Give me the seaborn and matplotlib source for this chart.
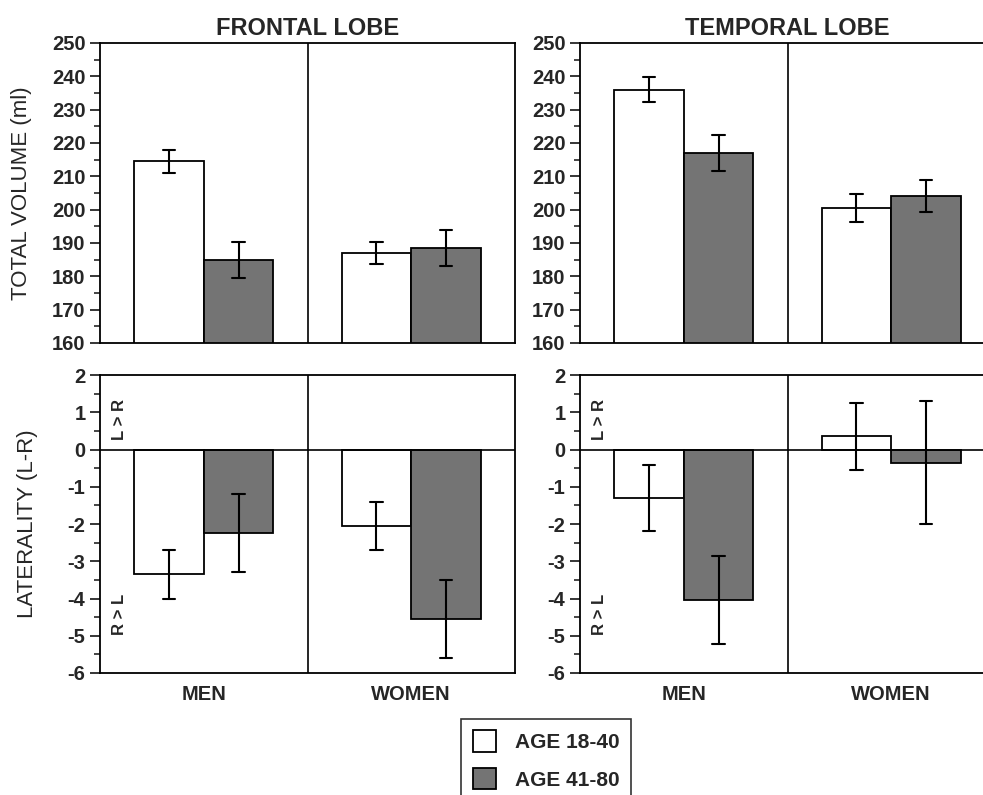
import numpy as np
import pandas as pd
import seaborn as sns
import matplotlib.pyplot as plt
from matplotlib.patches import Patch
from matplotlib.ticker import MultipleLocator

sex = ["MEN", "WOMEN"]
ages = ["AGE 18-40", "AGE 41-80"]

# order: men 18-40, men 41-80, women 18-40, women 41-80
frontal_vol = [214.5, 185.0, 187.0, 188.5]
frontal_vol_err = [3.5, 5.4, 3.3, 5.5]
temporal_vol = [236.0, 217.0, 200.5, 204.0]
temporal_vol_err = [3.8, 5.3, 4.3, 4.8]
frontal_lat = [-3.35, -2.25, -2.05, -4.55]
frontal_lat_err = [0.65, 1.05, 0.65, 1.05]
temporal_lat = [-1.3, -4.05, 0.35, -0.35]
temporal_lat_err = [0.88, 1.18, 0.9, 1.65]

colors = {"AGE 18-40": "white", "AGE 41-80": "#747474"}


def make_df(vals, errs):
    # two rows per bar (mean - err, mean + err): mean gives the bar, min/max the error bar
    rows = []
    for i, (v, e) in enumerate(zip(vals, errs)):
        rows.append((sex[i // 2], ages[i % 2], v - e))
        rows.append((sex[i // 2], ages[i % 2], v + e))
    return pd.DataFrame(rows, columns=["sex", "age", "value"])


sns.set_style("ticks")
plt.rcParams["font.family"] = ["Liberation Sans", "DejaVu Sans"]
plt.rcParams["font.weight"] = "bold"
plt.rcParams["axes.unicode_minus"] = False

fig = plt.figure(figsize=(9.83, 7.95), dpi=100)
W = 415 / 983
ax_tl = fig.add_axes([100 / 983, 1 - 343 / 795, W, 300 / 795])
ax_tr = fig.add_axes([580 / 983, 1 - 343 / 795, W, 300 / 795])
ax_bl = fig.add_axes([100 / 983, 1 - 673 / 795, W, 298 / 795])
ax_br = fig.add_axes([580 / 983, 1 - 673 / 795, W, 298 / 795])

panels = [
    (ax_tl, frontal_vol, frontal_vol_err, True),
    (ax_tr, temporal_vol, temporal_vol_err, True),
    (ax_bl, frontal_lat, frontal_lat_err, False),
    (ax_br, temporal_lat, temporal_lat_err, False),
]

for ax, vals, errs, top in panels:
    sns.barplot(data=make_df(vals, errs), x="sex", y="value", hue="age",
                order=sex, hue_order=ages, palette=colors,
                estimator="mean", errorbar=lambda v: (v.min(), v.max()),
                capsize=0.12, err_kws={"color": "black", "linewidth": 1.5},
                width=0.67, gap=0, edgecolor="black", linewidth=1.3,
                legend=False, ax=ax)
    ax.set_xlim(-0.5, 1.5)
    ax.axvline(0.5, color="black", lw=1.2)
    for s in ax.spines.values():
        s.set_visible(True)
        s.set_color("black")
        s.set_linewidth(1.3)
    ax.set_xlabel("")
    ax.set_ylabel("")
    if top:
        ax.set_ylim(160, 250)
        ax.yaxis.set_major_locator(MultipleLocator(10))
        ax.yaxis.set_minor_locator(MultipleLocator(5))
        ax.tick_params(axis="x", length=0, labelbottom=False)
    else:
        ax.set_ylim(-6, 2)
        ax.yaxis.set_major_locator(MultipleLocator(1))
        ax.yaxis.set_minor_locator(MultipleLocator(0.5))
        ax.axhline(0, color="black", lw=1.2)
        ax.tick_params(axis="x", length=0, pad=9, labelsize=14.5)
        ax.text(-0.405, 0.8, "L > R", rotation=90, ha="center", va="center", fontsize=12)
        ax.text(-0.405, -4.42, "R > L", rotation=90, ha="center", va="center", fontsize=12)
    ax.tick_params(axis="y", which="major", length=7.5, width=1.3, labelsize=14.5, pad=3)
    ax.tick_params(axis="y", which="minor", length=4, width=1.2)

ax_tl.set_title("FRONTAL LOBE", fontsize=17, fontweight="bold", pad=6)
ax_tr.set_title("TEMPORAL LOBE", fontsize=17, fontweight="bold", pad=6)
ax_tl.set_ylabel("TOTAL VOLUME (ml)", fontsize=16, fontweight="normal")
ax_tl.yaxis.set_label_coords(-0.163, 0.5)
ax_bl.set_ylabel("LATERALITY (L-R)", fontsize=16, fontweight="normal")
ax_bl.yaxis.set_label_coords(-0.15, 0.5)

handles = [Patch(facecolor=colors[a], edgecolor="black", linewidth=1.3, label=a) for a in ages]
leg = fig.legend(handles=handles, loc="upper center", bbox_to_anchor=(546 / 983, 1 - 719 / 795),
                 fontsize=15, frameon=True, fancybox=False, edgecolor="black",
                 handlelength=1.1, handleheight=1.2, labelspacing=0.75,
                 borderpad=0.55, handletextpad=0.9, borderaxespad=0)
leg.get_frame().set_linewidth(1.2)

fig.savefig("out.png", dpi=100)
